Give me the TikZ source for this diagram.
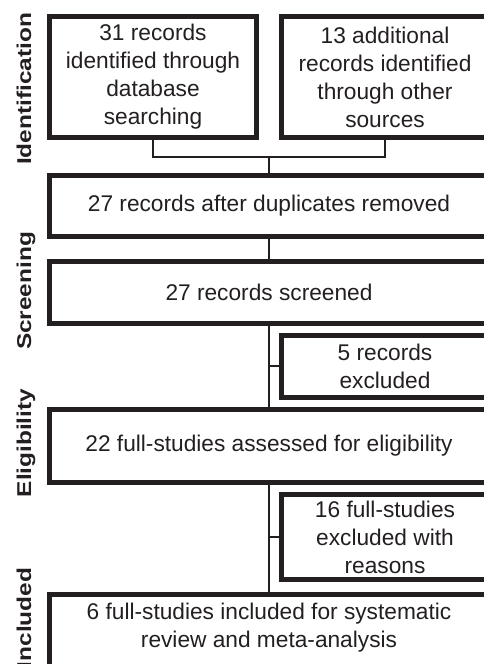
\documentclass[tikz,border=0pt]{standalone}
\usepackage{fontspec}
\setmainfont{Liberation Sans}
\definecolor{ink}{RGB}{35,31,32}
\newcommand\myboxfont{\fontsize{22.7}{28}\selectfont}
\newcommand\myphasefont{\fontsize{20}{21}\selectfont\bfseries}
\begin{document}
\begin{tikzpicture}[x=1pt,y=-1pt,
  box/.style={draw=ink, line width=5pt, rectangle, inner sep=0pt, align=center, text=ink, font=\myboxfont},
  link/.style={draw=ink, line width=2.8pt},
  phase/.style={rotate=90, anchor=base, text=ink, inner sep=0pt, font=\myphasefont}]
\useasboundingbox (0,0) rectangle (484,664);
\clip (0,0) rectangle (484,664);
% boxes
\node[box, minimum width=207.5pt, minimum height=121.5pt] (b1) at (153,77) {31 records\\identified through\\database\\searching};
\node[box, minimum width=208pt, minimum height=121.5pt] (b2) at (385,77) {13 additional\\records identified\\through other\\sources};
\node[box, minimum width=440pt, minimum height=61.5pt] (b3) at (269,206) {27 records after duplicates removed};
\node[box, minimum width=440pt, minimum height=62pt] (b4) at (269,292.5) {27 records screened};
\node[box, minimum width=208pt, minimum height=62pt] (b5) at (385,366) {5 records\\excluded};
\node[box, minimum width=440pt, minimum height=72.5pt] (b6) at (269,446) {22 full-studies assessed for eligibility};
\node[box, minimum width=208pt, minimum height=84.5pt] (b7) at (385,537) {16 full-studies\\excluded with\\reasons};
\node[box, minimum width=440pt, minimum height=105.5pt] (b8) at (269,647.25) {};
\node[text=ink, font=\myboxfont, align=center, inner sep=0pt] (t8) at (269,628) {6 full-studies included for systematic\\review and meta-analysis};
% connectors
\coordinate (j1) at (269,157);
\draw[link] (b1.south) |- (j1) -| (b2.south);
\draw[link] (j1) -- (b3.north);
\draw[link] (b3.south) -- (b4.north);
\draw[link] (b4.south) -- (b6.north);
\draw[link] (b4.south |- b5.west) -- (b5.west);
\draw[link] (b6.south) -- (b8.north);
\draw[link] (b6.south |- b7.west) -- (b7.west);
% phase labels
\node[phase] (l1) at (31,89) {\scalebox{1.22}[1]{Identification}};
\node[phase] (l2) at (31,291) {\scalebox{1.22}[1]{Screening}};
\node[phase] (l3) at (31,443) {\scalebox{1.22}[1]{Eligibility}};
\node[phase] (l4) at (31,618) {\scalebox{1.22}[1]{Included}};
\end{tikzpicture}
\end{document}
